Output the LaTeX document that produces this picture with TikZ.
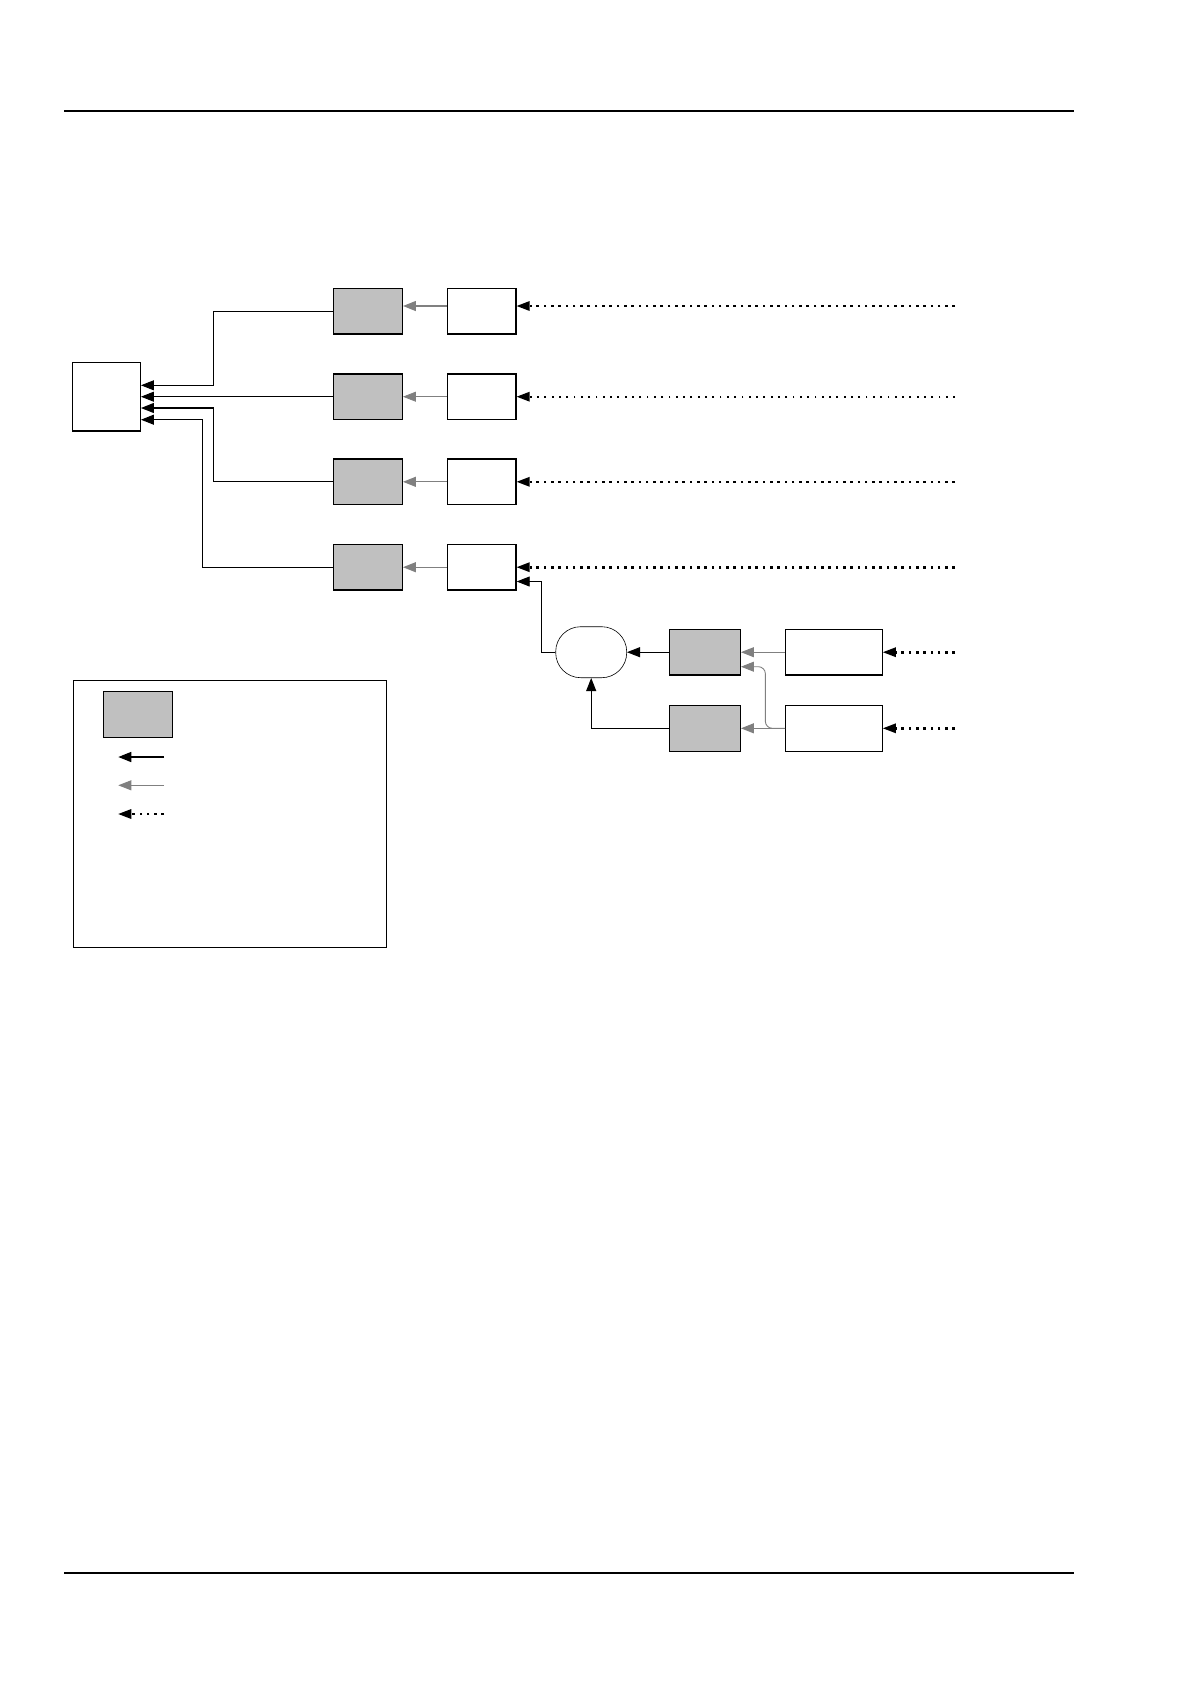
\documentclass[tikz,border=0pt]{standalone}
\usetikzlibrary{arrows.meta,calc}
\definecolor{boxgray}{HTML}{C0C0C0}
\definecolor{arrgray}{HTML}{808080}
\tikzset{
  wbox/.style={draw=black,line width=1.3pt,fill=white,inner sep=0pt,minimum height=45.5pt},
  gbox/.style={draw=black,line width=1.3pt,fill=boxgray,inner sep=0pt,minimum width=69pt,minimum height=45.5pt},
  blk/.style={draw=black,line width=0.9pt,-{Triangle[length=13pt,width=10pt]}},
  gry/.style={draw=arrgray,line width=0.9pt,-{Triangle[length=13pt,width=10pt]}},
  dotarr/.style={draw=black,line width=2.6pt,dash pattern=on 2.6pt off 4.7pt,-{Triangle[length=13pt,width=10pt,line width=0pt]}},
  dotthin/.style={draw=black,line width=1.8pt,dash pattern=on 1.8pt off 5.5pt,-{Triangle[length=13pt,width=10pt,line width=0pt]}},
  rule/.style={draw=black,line width=2.2pt}
}
\begin{document}
\begin{tikzpicture}[x=1pt,y=-1pt]
\useasboundingbox (0,0) rectangle (1190,1684);
% rules
\coordinate (t1) at (64,110.6); \coordinate (t2) at (1074,110.6);
\coordinate (b1) at (64,1573); \coordinate (b2) at (1074,1573);
\draw[rule] (t1) -- (t2);
\draw[rule] (b1) -- (b2);
% main box
\node[wbox,minimum width=68pt,minimum height=68.3pt] (main) at (106.3,396.9) {};
% gray boxes
\node[gbox] (g1) at (367.8,311.3) {};
\node[gbox] (g2) at (367.8,396.7) {};
\node[gbox] (g3) at (367.8,481.8) {};
\node[gbox] (g4) at (367.8,567.2) {};
% white boxes
\node[wbox,minimum width=68.7pt] (w1) at (481.7,311.3) {};
\node[wbox,minimum width=68.7pt] (w2) at (481.7,396.7) {};
\node[wbox,minimum width=68.7pt] (w3) at (481.7,481.8) {};
\node[wbox,minimum width=68.7pt] (w4) at (481.7,567.2) {};
% lower group
\node[draw=black,line width=0.6pt,fill=white,rounded corners=25pt,minimum width=71pt,minimum height=51pt,inner sep=0pt] (ell) at (591.2,652.2) {};
\node[gbox,minimum width=71pt,minimum height=45.7pt] (g5) at (704.8,652.2) {};
\node[gbox,minimum width=71pt,minimum height=45.7pt] (g6) at (704.8,728.3) {};
\node[wbox,minimum width=96.6pt,minimum height=45.7pt] (w5) at (834,652.2) {};
\node[wbox,minimum width=96.6pt,minimum height=45.7pt] (w6) at (834,728.3) {};
% arrow targets on main box
\path (main.east) ++(0,-11.6) coordinate (m1);
\path (main.east) ++(0,-0.2) coordinate (m2);
\path (main.east) ++(0,11.1) coordinate (m3);
\path (main.east) ++(0,22.8) coordinate (m4);
% to main box
\draw[blk] (g1.west) -- ++(-119,0) |- (m1);
\draw[blk] (g2.west) -- (m2);
\draw[blk,line width=1.2pt] (g3.west) -- ++(-119,0) |- (m3);
\draw[blk,line width=1.2pt] (g4.west) -- ++(-130,0) |- (m4);
% gray arrows white -> gray
\draw[gry,line width=1.3pt] ([yshift=5.3pt]w1.west) -- ([yshift=5.3pt]g1.east);
\draw[gry,line width=0.8pt] (w2.west) -- (g2.east);
\draw[gry,line width=1.3pt] (w3.west) -- (g3.east);
\draw[gry,line width=1.3pt] (w4.west) -- (g4.east);
% dotted inputs
\coordinate (d1) at (955,306);
\coordinate (d2) at (955,396.7);
\coordinate (d3) at (955,481.8);
\coordinate (d4) at (955,567.2);
\coordinate (d5) at (955,652.2);
\coordinate (d6) at (955,728.3);
\draw[dotarr] (d1) -- ([yshift=5.3pt]w1.east);
\draw[dotthin] (d2) -- (w2.east);
\draw[dotarr] (d3) -- (w3.east);
\draw[dotarr] (d4) -- (w4.east);
\draw[dotarr] (d5) -- (w5.east);
\draw[dotarr] (d6) -- (w6.east);
% lower connections
\draw[blk] (ell.west) -- ++(-14,0) |- ([yshift=-14.3pt]w4.east);
\draw[blk] (g5.west) -- (ell.east);
\draw[blk] (g6.west) -| (ell.south);
\draw[gry] (w5.west) -- (g5.east);
\draw[gry,line width=1.3pt] (w6.west) -- (g6.east);
\draw[gry,rounded corners=7pt] (w6.west) -- ++(-19.7,0) |- ([yshift=-14.5pt]g5.east);
% legend
\node[draw=black,line width=1pt,fill=white,minimum width=312.7pt,minimum height=267.3pt,inner sep=0pt] (leg) at (229.65,813.65) {};
\node[gbox] (lg) at (137.8,714.5) {};
\coordinate (la1) at (164,757); \coordinate (la2) at (118.3,757);
\coordinate (lb1) at (164,785.3); \coordinate (lb2) at (118.3,785.3);
\coordinate (lc1) at (164,814); \coordinate (lc2) at (118.3,814);
\draw[blk,line width=1.6pt] (la1) -- (la2);
\draw[gry,line width=0.8pt] (lb1) -- (lb2);
\draw[dotarr] (lc1) -- (lc2);
\end{tikzpicture}
\end{document}
